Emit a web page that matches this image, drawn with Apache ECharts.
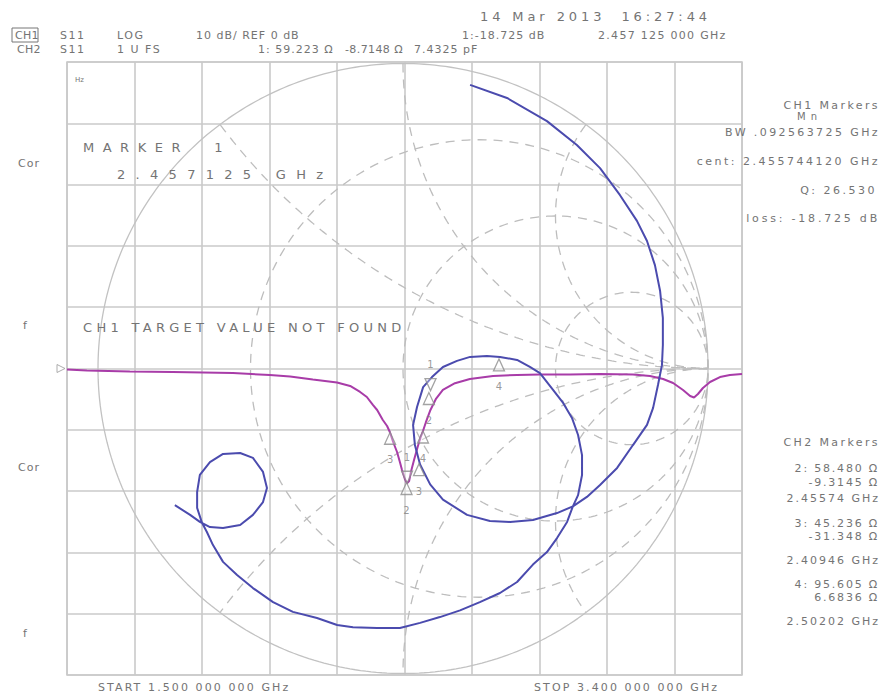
<!DOCTYPE html>
<html><head><meta charset="utf-8">
<script src="https://cdn.jsdelivr.net/npm/echarts@6/dist/echarts.min.js"></script>
<style>html,body{margin:0;padding:0;background:#fff}#c{width:883px;height:698px}</style>
</head><body><div id="c"></div>
<script>
// ---- CH1: S11 log magnitude (dB) vs frequency (GHz) ----
const freqGHz = [1.500,1.556,1.677,1.798,1.967,2.071,2.128,2.192,2.260,2.297,2.325,2.344,2.361,2.373,2.389,2.401,2.409,2.418,2.429,2.437,2.443,2.451,2.457,2.463,2.468,2.477,2.488,2.496,2.502,2.510,2.522,2.539,2.558,2.592,2.634,2.699,2.767,2.831,2.916,3.000,3.093,3.141,3.178,3.206,3.234,3.254,3.265,3.276,3.290,3.310,3.338,3.366,3.400];
const s11dB   = [-0.16,-0.33,-0.49,-0.57,-0.73,-1.06,-1.31,-1.79,-2.28,-2.85,-3.83,-4.65,-5.95,-6.77,-8.40,-9.38,-10.4,-11.99,-13.62,-15.25,-16.56,-18.03,-18.73,-18.35,-16.9,-14.9,-12.6,-11.1,-10.2,-8.8,-6.9,-4.9,-3.5,-2.4,-1.71,-1.22,-1.06,-0.98,-0.98,-0.90,-0.98,-1.22,-1.71,-2.37,-3.51,-4.49,-4.73,-4.16,-3.18,-2.20,-1.39,-1.06,-0.90];

// ---- CH2: S11 on the Smith chart (reflection coefficient, real / imaginary) ----
const smithRe = [0.220,0.341,0.472,0.570,0.646,0.711,0.767,0.800,0.826,0.843,0.852,0.852,0.849,0.836,0.820,0.800,0.754,0.702,0.646,0.603,0.557,0.505,0.426,0.351,0.285,0.210,0.131,0.089,0.056,0.039,0.033,0.046,0.066,0.095,0.131,0.177,0.220,0.275,0.318,0.374,0.416,0.449,0.492,0.525,0.554,0.574,0.587,0.587,0.574,0.557,0.538,0.505,0.472,0.426,0.374,0.318,0.252,0.187,0.121,0.056,-0.010,-0.085,-0.164,-0.216,-0.282,-0.361,-0.426,-0.492,-0.544,-0.590,-0.623,-0.643,-0.659,-0.675,-0.675,-0.666,-0.633,-0.590,-0.534,-0.492,-0.459,-0.446,-0.459,-0.492,-0.534,-0.590,-0.633,-0.666,-0.698,-0.748];
const smithIm = [0.930,0.887,0.811,0.733,0.657,0.569,0.484,0.418,0.339,0.254,0.166,0.077,0.011,-0.054,-0.129,-0.185,-0.251,-0.326,-0.382,-0.421,-0.452,-0.474,-0.497,-0.503,-0.500,-0.480,-0.430,-0.380,-0.315,-0.251,-0.185,-0.126,-0.061,-0.028,0.005,0.025,0.038,0.041,0.038,0.028,0.005,-0.015,-0.070,-0.113,-0.162,-0.218,-0.284,-0.349,-0.415,-0.452,-0.503,-0.556,-0.602,-0.643,-0.700,-0.736,-0.766,-0.793,-0.815,-0.834,-0.851,-0.851,-0.848,-0.841,-0.818,-0.798,-0.766,-0.720,-0.677,-0.634,-0.579,-0.536,-0.506,-0.457,-0.405,-0.349,-0.307,-0.280,-0.277,-0.293,-0.339,-0.392,-0.438,-0.480,-0.513,-0.523,-0.520,-0.503,-0.480,-0.448];

// ---- Markers ----
const markerNames   = ['1','2','3','4'];
const ch1MarkerFreq = [2.457125, 2.45574, 2.40946, 2.50202];
const ch1MarkerDB   = [-18.725, -18.6, -10.4, -10.2];
const ch2MarkerR    = [59.223, 58.480, 45.236, 95.605];
const ch2MarkerX    = [-8.7148, -9.3145, -31.348, 6.6836];
const Z0 = 50;

// ---- Smith chart graticule values ----
const resistanceCircles = [1/3, 1, 3];
const reactanceArcs = [0.5, 1, 2, -0.5, -1, -2];

const GRID_C = '#cacaca', DASH_C = '#bdbdbd', TXT = '#747474';

function gammaOf(R, X){
  const r=R/Z0, x=X/Z0, nr=r-1, ni=x, dr=r+1, di=x, den=dr*dr+di*di;
  return [(nr*dr+ni*di)/den, (ni*dr-nr*di)/den];
}
function circlePts(cx, cy, rad, n){
  const p=[]; for(let i=0;i<=n;i++){const t=2*Math.PI*i/n; p.push([cx+rad*Math.cos(t), cy+rad*Math.sin(t)]);} return p;
}
function arcPts(x){
  const cx=1, cy=1/x, rad=Math.abs(1/x), t0=Math.atan2(-cy,-cx), p=[];
  for(let i=0;i<=1440;i++){const t=t0-Math.PI+2*Math.PI*i/1440; const a=cx+rad*Math.cos(t), b=cy+rad*Math.sin(t); if(a*a+b*b<=1.0002) p.push([a,b]);}
  return p;
}

const series = [];
// smith outer circle
series.push({type:'line', xAxisIndex:2, yAxisIndex:1, data:circlePts(0,0,1,360), showSymbol:false, silent:true, z:1,
  lineStyle:{color:'#c2c2c2', width:1.3}});
resistanceCircles.forEach(r=>{
  series.push({type:'line', xAxisIndex:2, yAxisIndex:1, data:circlePts(r/(1+r),0,1/(1+r),240), showSymbol:false, silent:true, z:1,
    lineStyle:{color:DASH_C, width:1.3, type:[9,7]}});
});
reactanceArcs.forEach(x=>{
  series.push({type:'line', xAxisIndex:2, yAxisIndex:1, data:arcPts(x), showSymbol:false, silent:true, z:1,
    lineStyle:{color:DASH_C, width:1.3, type:[9,7]}});
});
// CH1 trace
series.push({type:'line', xAxisIndex:1, yAxisIndex:0, data:freqGHz.map((f,i)=>[f,s11dB[i]]), showSymbol:false, z:3,
  lineStyle:{color:'#a83ca8', width:2}});
// CH2 trace
series.push({type:'line', xAxisIndex:2, yAxisIndex:1, data:smithRe.map((v,i)=>[v,smithIm[i]]), showSymbol:false, z:3,
  lineStyle:{color:'#4b4bae', width:2}});

function markerItem(val, i){
  const active = i===0;
  return {value:val, name:markerNames[i], symbolRotate: active?180:0, symbolOffset:[0, active?-6:6],
    label:{position: active?'top':'bottom', distance: active?8:10}};
}
const markerStyle = {type:'scatter', symbol:'triangle', symbolSize:[11,12], z:5, clip:false,
  itemStyle:{color:'rgba(255,255,255,0.4)', borderColor:'#8c8c8c', borderWidth:1.3},
  label:{show:true, formatter:'{b}', color:'#808080', fontSize:10, fontFamily:'DejaVu Sans'}};
series.push(Object.assign({}, markerStyle, {xAxisIndex:1, yAxisIndex:0,
  data: ch1MarkerFreq.map((f,i)=>markerItem([f, ch1MarkerDB[i]], i))}));
series.push(Object.assign({}, markerStyle, {xAxisIndex:2, yAxisIndex:1,
  data: ch2MarkerR.map((R,i)=>markerItem(gammaOf(R, ch2MarkerX[i]), i))}));
// reference level indicator
series.push({type:'scatter', xAxisIndex:1, yAxisIndex:0, clip:false, z:5, symbol:'triangle', symbolSize:[8,8], symbolRotate:-90, symbolOffset:[-6,0],
  itemStyle:{color:'#fff', borderColor:'#9a9a9a', borderWidth:1}, data:[[freqGHz[0],0]]});

// ---- texts ----
const texts = [
  // [text, x, y, size, letterSpacing, align]
  ['14 Mar 2013  16:27:44', 480, 16, 13, 3.9, 'left'],
  ['CH1', 15, 35, 11, 0.3, 'left'], ['S11', 60, 35, 11, 1.5, 'left'], ['LOG', 117, 35, 11, 1.5, 'left'],
  ['10 dB/ REF 0 dB', 196, 35, 11, 1, 'left'], ['1:-18.725 dB', 462, 35, 11, 1, 'left'], ['2.457 125 000 GHz', 598, 35, 11, 1.3, 'left'],
  ['CH2', 17, 49, 11, 0.3, 'left'], ['S11', 60, 49, 11, 1.5, 'left'], ['1 U FS', 117, 49, 11, 1.5, 'left'],
  ['1: 59.223 Ω', 258, 49, 11, 1, 'left'], ['-8.7148 Ω', 345, 49, 11, 0.4, 'left'], ['7.4325 pF', 414, 49, 11, 1, 'left'],
  ['CH1 Markers', 880, 105, 11, 2.4, 'right'], ['M n', 797, 116, 10, 1, 'left'],
  ['BW .092563725 GHz', 880, 132, 11, 2.4, 'right'], ['cent: 2.455744120 GHz', 880, 161, 11, 2.5, 'right'],
  ['Q: 26.530', 877, 190, 11, 2.5, 'right'], ['loss: -18.725 dB', 880, 218, 11, 2.8, 'right'],
  ['CH2 Markers', 880, 442, 11, 2.4, 'right'],
  ['2: 58.480 Ω', 879, 468, 11, 1.8, 'right'], ['-9.3145 Ω', 879, 482, 11, 1.8, 'right'], ['2.45574 GHz', 880, 498, 11, 2, 'right'],
  ['3: 45.236 Ω', 879, 523, 11, 1.8, 'right'], ['-31.348 Ω', 879, 536, 11, 1.8, 'right'], ['2.40946 GHz', 880, 560, 11, 2, 'right'],
  ['4: 95.605 Ω', 879, 584, 11, 1.8, 'right'], ['6.6836 Ω', 879, 597, 11, 1.8, 'right'], ['2.50202 GHz', 880, 621, 11, 2, 'right'],
  ['Cor', 18, 163, 11, 1, 'left'], ['f', 23, 325, 11, 0, 'left'], ['Cor', 18, 467, 11, 1, 'left'], ['f', 23, 633, 11, 0, 'left'],
  ['START 1.500 000 000 GHz', 98, 687, 11, 2.1, 'left'], ['STOP 3.400 000 000 GHz', 534, 687, 11, 2.1, 'left'],
  ['MARKER  1', 83, 147, 13, 8.5, 'left'], ['2.457125 GHz', 117, 174, 13, 10.3, 'left'],
  ['CH1 TARGET VALUE NOT FOUND', 83, 327, 13, 4.3, 'left'],
  ['Hz', 75, 80, 7, 0, 'left']
];
const spacing = {};
const graphic = texts.map(t=>{ spacing[t[0]] = t[4]; return {type:'text', x:t[1], y:t[2], z:10, silent:true,
  style:{text:t[0], fill:TXT, font:t[3]+'px "DejaVu Sans"', textAlign:t[5], textVerticalAlign:'middle'}}; });
graphic.push({type:'rect', shape:{x:12, y:28, width:26, height:14}, z:10, silent:true, style:{fill:'none', stroke:'#777', lineWidth:1}});

const chart = echarts.init(document.getElementById('c'), null, {renderer:'svg', width:883, height:698});
chart.setOption({
  animation:false,
  backgroundColor:'#ffffff',
  grid:[
    {left:67, top:62, width:675, height:613, show:true, borderColor:GRID_C, borderWidth:1.6, backgroundColor:'transparent'},
    {left:98, top:63.5, width:610, height:610}
  ],
  xAxis:[
    {gridIndex:0, type:'value', min:0, max:10, interval:1, axisLine:{show:false}, axisTick:{show:false}, axisLabel:{show:false},
      splitLine:{show:true, lineStyle:{color:GRID_C, width:1.6}}},
    {gridIndex:0, type:'value', min:1.5, max:3.4, show:false, splitLine:{show:false}},
    {gridIndex:1, type:'value', min:-1, max:1, show:false, splitLine:{show:false}}
  ],
  yAxis:[
    {gridIndex:0, type:'value', min:-50, max:50, interval:10, axisLine:{show:false}, axisTick:{show:false}, axisLabel:{show:false},
      splitLine:{show:true, lineStyle:{color:GRID_C, width:1.6}}},
    {gridIndex:1, type:'value', min:-1, max:1, show:false, splitLine:{show:false}}
  ],
  graphic: graphic,
  series: series
});
function applySpacing(){
  document.querySelectorAll('#c svg text').forEach(el=>{
    const s = spacing[el.textContent];
    if (s) el.setAttribute('letter-spacing', s);
  });
}
applySpacing();
chart.on('finished', applySpacing);
</script>
</body></html>
